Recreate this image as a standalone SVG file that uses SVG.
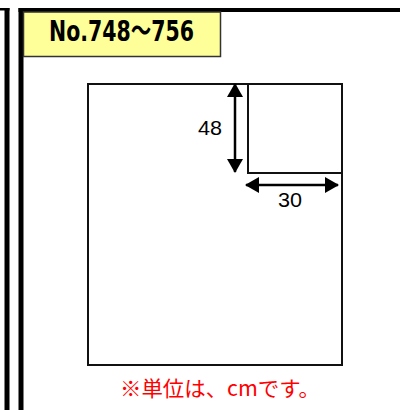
<svg xmlns="http://www.w3.org/2000/svg" width="400" height="410" viewBox="0 0 400 410">
<defs>
<marker id="ah" viewBox="0 0 14 16" refX="13" refY="8" markerWidth="14" markerHeight="16" markerUnits="userSpaceOnUse" orient="auto-start-reverse">
<path d="M0,0 L14,8 L0,16 Z" fill="#000"/>
</marker>
</defs>
<style>
.frame{fill:#000}
.box{fill:none;stroke:#111;stroke-width:2}
.dim{stroke:#000;stroke-width:2.5;marker-start:url(#ah);marker-end:url(#ah)}
.lbl{font-family:"Liberation Sans",Arial,sans-serif;font-size:21px;fill:#000}
</style>
<g id="frame">
<rect class="frame" x="0" y="8" width="9.5" height="2.5"/>
<rect class="frame" x="4.5" y="8" width="5" height="402"/>
<rect class="frame" x="18.5" y="8" width="381.5" height="4"/>
<rect class="frame" x="18.5" y="8" width="5" height="402"/>
</g>
<g id="header">
<rect x="23.5" y="12" width="197" height="44.5" fill="#ffff99" stroke="#333" stroke-width="1.5"/>
<text x="49" y="40.5" font-family="'DejaVu Sans','Noto Sans CJK JP',sans-serif" font-weight="bold" font-size="28" textLength="145" lengthAdjust="spacingAndGlyphs" fill="#000">No.748～756</text>
</g>
<g id="sheet">
<rect class="box" x="88" y="84" width="254" height="281"/>
</g>
<g id="pocket">
<rect class="box" x="248" y="84" width="94" height="89"/>
</g>
<g id="connectors">
<line class="dim" x1="235" y1="84" x2="235" y2="172"/>
<line class="dim" x1="246" y1="185" x2="338" y2="185"/>
</g>
<g id="labels">
<text class="lbl" x="198" y="135" textLength="24" lengthAdjust="spacingAndGlyphs">48</text>
<text class="lbl" x="278" y="207" textLength="24" lengthAdjust="spacingAndGlyphs">30</text>
<text x="120" y="396" font-family="'Noto Sans CJK JP',sans-serif" font-size="21" textLength="200" lengthAdjust="spacingAndGlyphs" fill="#ff0000">※単位は、cmです。</text>
</g>
</svg>
